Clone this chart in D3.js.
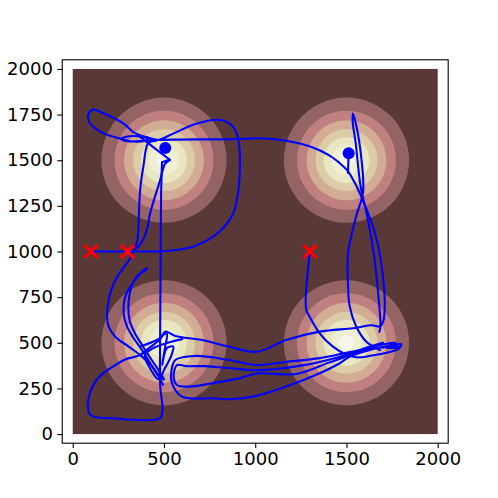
<!DOCTYPE html>
<html>
<head>
<meta charset="utf-8">
<script src="https://cdn.jsdelivr.net/npm/d3@7"></script>
<style>
  body { margin: 0; background: #fff; }
  svg { display: block; }
</style>
</head>
<body>
<div id="chart"></div>
<script>
// field: four bumps, drawn as filled contour bands (outer -> inner)
const centers = [[500, 500], [1500, 500], [500, 1500], [1500, 1500]];
const bandRadii = [343, 271, 219, 170, 126, 82, 41];
const bandColors = ["#946464", "#c18080", "#d2ac95", "#ddcca8", "#e9e7c1", "#efefd3", "#f7f7ea"];
const fieldColor = "#593838";
const fieldExtent = [0, 2000];

const xTicks = [0, 500, 1000, 1500, 2000];
const yTicks = [0, 250, 500, 750, 1000, 1250, 1500, 1750, 2000];

const starts = [[100, 1000], [300, 1000], [1300, 1000]];
const ends = [[507, 1567], [1512, 1538]];

// trajectory pieces
const pathA = [[100,1000],[314,1000],[533,1004],[670,1030],[800,1105],[882,1215],[910,1360],[916,1520],[908,1610],[884,1675],[845,1710],[790,1722],[672,1698],[544,1643],[471,1612],[420,1622],[341,1648],[277,1702],[168,1757],[115,1777],[86,1752],[92,1706],[130,1670],[179,1643],[261,1618],[314,1604],[396,1606],[413,1616],[369,1630],[287,1627],[265,1616],[314,1603],[400,1607],[460,1611],[560,1613],[698,1614],[917,1616],[1010,1620],[1170,1607],[1298,1576],[1408,1525],[1470,1478],[1508,1440],[1535,1395],[1554,1360],[1609,1233],[1655,1105],[1682,986],[1700,862],[1710,716],[1702,620],[1682,590],[1640,596],[1536,580],[1353,561],[1170,515],[1010,451],[855,479],[708,515],[562,537],[507,561],[480,520],[430,480],[362,430],[290,410],[233,378],[139,307],[87,198],[96,105],[215,87],[478,87],[492,132],[480,252],[478,400],[480,700],[482,1000],[484,1300],[489,1489]];
const pathB = [[489,1489],[533,1502],[506,1480],[479,1391],[424,1209],[406,1117],[370,1040],[334,1004],[316,963],[270,901],[225,826],[197,736],[188,643],[197,588],[233,533],[307,479],[380,424],[434,369],[471,314],[495,270]];
const pathL = [[455,1605],[414,1593],[387,1465],[369,1336],[359,1117],[352,1050],[334,1004]];
const pathG = [[369,1628],[450,1565],[533,1502]];
const pathN = [[495,300],[462,333],[425,388],[380,460],[334,525],[298,588],[279,662],[288,753],[334,835],[389,898],[407,910],[395,895],[358,872],[320,800],[305,700],[312,620],[342,550],[385,480],[430,410],[470,350],[500,300]];
const pathD = [[1766,482],[1656,470],[1519,449],[1354,416],[1168,395],[1010,378],[855,406],[672,428],[562,406],[540,340],[544,278],[599,205],[764,196],[855,191],[988,205],[1170,260],[1353,333],[1463,388],[1518,424],[1627,460],[1740,485],[1800,492],[1795,478],[1720,472]];
const pathH = [[1700,500],[1600,470],[1450,420],[1250,375],[1010,350],[850,362],[725,372],[620,372],[571,378],[553,314],[571,269],[636,260],[764,278],[910,305],[1010,332],[1225,329],[1400,390],[1500,425],[1620,470],[1720,495],[1770,500],[1740,490]];
const pathC = [[1300,1000],[1289,899],[1277,753],[1280,680],[1298,643],[1353,552],[1426,479],[1499,435],[1560,420],[1640,430],[1720,445],[1790,470],[1785,482],[1700,475]];
const pathE = [[1684,460],[1609,506],[1554,588],[1518,698],[1508,826],[1508,986],[1527,1087],[1554,1196],[1591,1324],[1582,1506],[1554,1689],[1535,1755],[1535,1700],[1550,1598],[1577,1360],[1613,1196],[1650,986],[1677,734],[1686,588],[1680,560]];
const pathS = [[1512,1538],[1508,1430]];
const pathZ = [[369,479],[461,515],[515,551],[505,470],[490,380],[515,470],[551,479],[540,430],[505,360],[470,300],[430,350],[395,430],[440,470],[520,500],[600,520]];
const trajectory = [pathA, pathB, pathL, pathG, pathN, pathD, pathH, pathC, pathE, pathS, pathZ];

const width = 498;
const height = 498;
const margin = { left: 62.25, right: 49.8, top: 59.8, bottom: 54.8 };

const x = d3.scaleLinear()
    .domain([-57.5, 2057.5])
    .range([margin.left, width - margin.right]);

const y = d3.scaleLinear()
    .domain([-50, 2050])
    .range([height - margin.bottom, margin.top]);

const svg = d3.select("#chart").append("svg")
    .attr("width", width)
    .attr("height", height)
    .style("font-family", "'DejaVu Sans', sans-serif");

svg.append("defs").append("clipPath")
    .attr("id", "plot-clip")
    .append("rect")
    .attr("x", margin.left)
    .attr("y", margin.top)
    .attr("width", width - margin.left - margin.right)
    .attr("height", height - margin.top - margin.bottom);

const plot = svg.append("g").attr("clip-path", "url(#plot-clip)");

plot.append("rect")
    .attr("x", x(fieldExtent[0]))
    .attr("y", y(fieldExtent[1]))
    .attr("width", x(fieldExtent[1]) - x(fieldExtent[0]))
    .attr("height", y(fieldExtent[0]) - y(fieldExtent[1]))
    .attr("fill", fieldColor);

centers.forEach(c => {
    plot.append("g")
        .selectAll("circle")
        .data(bandRadii)
        .join("circle")
        .attr("cx", x(c[0]))
        .attr("cy", y(c[1]))
        .attr("r", r => x(r) - x(0))
        .attr("fill", (r, i) => bandColors[i]);
});

const line = d3.line()
    .x(d => x(d[0]))
    .y(d => y(d[1]))
    .curve(d3.curveCatmullRom.alpha(0.5));

plot.append("g")
    .selectAll("path")
    .data(trajectory)
    .join("path")
    .attr("d", line)
    .attr("fill", "none")
    .attr("stroke", "#0000ff")
    .attr("stroke-width", 2.1)
    .attr("stroke-linejoin", "round")
    .attr("stroke-linecap", "round");

plot.append("g")
    .selectAll("circle")
    .data(ends)
    .join("circle")
    .attr("cx", d => x(d[0]))
    .attr("cy", d => y(d[1]))
    .attr("r", 6)
    .attr("fill", "#0000ff");

const s = 6.5;
plot.append("g")
    .selectAll("path")
    .data(starts)
    .join("path")
    .attr("d", d => {
        const cx = x(d[0]), cy = y(d[1]);
        return `M${cx - s},${cy - s}L${cx + s},${cy + s}M${cx - s},${cy + s}L${cx + s},${cy - s}`;
    })
    .attr("stroke", "#ff0000")
    .attr("stroke-width", 3.3)
    .attr("fill", "none");

// axes
const xAxis = svg.append("g")
    .attr("transform", `translate(0,${height - margin.bottom})`)
    .call(d3.axisBottom(x).tickValues(xTicks).tickFormat(d3.format("d")).tickSize(4.9).tickPadding(4.5).tickSizeOuter(0));

const yAxis = svg.append("g")
    .attr("transform", `translate(${margin.left},0)`)
    .call(d3.axisLeft(y).tickValues(yTicks).tickFormat(d3.format("d")).tickSize(4.9).tickPadding(4.5).tickSizeOuter(0));

[xAxis, yAxis].forEach(g => {
    g.select(".domain").remove();
    g.selectAll("line").attr("stroke", "#000").attr("stroke-width", 1.1);
    g.selectAll("text")
        .attr("fill", "#000")
        .style("font-size", "18px")
        .style("font-family", "'DejaVu Sans', sans-serif");
});

svg.append("rect")
    .attr("x", margin.left)
    .attr("y", margin.top)
    .attr("width", width - margin.left - margin.right)
    .attr("height", height - margin.top - margin.bottom)
    .attr("fill", "none")
    .attr("stroke", "#000")
    .attr("stroke-width", 1.1);
</script>
</body>
</html>
